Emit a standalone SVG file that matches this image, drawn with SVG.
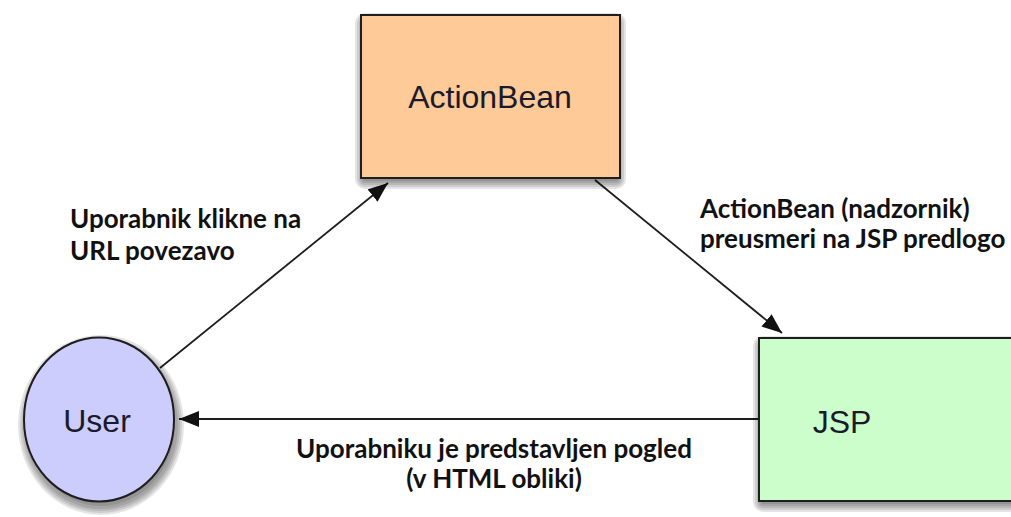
<svg xmlns="http://www.w3.org/2000/svg" width="1011" height="517" viewBox="0 0 1011 517">
  <defs>
    <marker id="arrow" markerUnits="userSpaceOnUse" markerWidth="22" markerHeight="16" refX="20" refY="8" orient="auto">
      <path d="M0,0 L20,8 L0,16 Z" fill="#111"/>
    </marker>
    <style>
      .node { stroke: #1e1e1e; stroke-width: 2; }
      .shade * { fill: #000; fill-opacity: 0.1; }
      .node-label { font-family: "Liberation Sans", Arial, sans-serif; font-size: 32px; fill: #1a1a2a; }
      .edge { stroke: #1e1e1e; stroke-width: 1.8; fill: none; marker-end: url(#arrow); }
      .edge-label { font-family: Lato, "Open Sans", sans-serif; font-weight: bold; font-size: 26px; fill: #111; }
    </style>
  </defs>

  <rect width="1011" height="517" fill="#ffffff"/>

  <!-- connectors -->
  <g id="connectors">
    <line class="edge" x1="160" y1="368" x2="388" y2="183"/>
    <line class="edge" x1="595" y1="180" x2="782" y2="333"/>
    <line class="edge" x1="759" y1="419" x2="179" y2="419"/>
  </g>

  <!-- nodes, each with a soft drop shadow built from stacked translucent layers -->
  <g id="node-actionbean">
    <g class="shade">
      <rect x="355" y="13" width="271" height="176" rx="10"/>
      <rect x="357" y="15" width="267" height="172" rx="8"/>
      <rect x="359" y="17" width="263" height="168" rx="6"/>
      <rect x="361" y="19" width="259" height="164" rx="4"/>
      <rect x="363" y="21" width="255" height="160" rx="2"/>
    </g>
    <rect class="node" x="361" y="15" width="259" height="163" fill="#fdca98"/>
    <text class="node-label" x="490" y="108" text-anchor="middle">ActionBean</text>
  </g>

  <g id="node-jsp">
    <g class="shade">
      <rect x="753" y="336" width="282" height="176" rx="10"/>
      <rect x="755" y="338" width="278" height="172" rx="8"/>
      <rect x="757" y="340" width="274" height="168" rx="6"/>
      <rect x="759" y="342" width="270" height="164" rx="4"/>
      <rect x="761" y="344" width="266" height="160" rx="2"/>
    </g>
    <rect class="node" x="759" y="338" width="270" height="163" fill="#ccfecb"/>
    <text class="node-label" x="842" y="433" text-anchor="middle">JSP</text>
  </g>

  <g id="node-user">
    <g class="shade">
      <ellipse cx="101" cy="425" rx="83" ry="90"/>
      <ellipse cx="101" cy="425" rx="81" ry="88"/>
      <ellipse cx="101" cy="425" rx="79" ry="86"/>
      <ellipse cx="101" cy="425" rx="77" ry="84"/>
      <ellipse cx="101" cy="425" rx="74" ry="81"/>
    </g>
    <ellipse class="node" cx="99" cy="419.5" rx="75" ry="82" fill="#cdcdfd"/>
    <text class="node-label" x="97" y="432" text-anchor="middle">User</text>
  </g>

  <!-- edge labels -->
  <g id="labels">
    <text class="edge-label" x="70" y="228">Uporabnik klikne na</text>
    <text class="edge-label" x="70" y="260">URL povezavo</text>
    <text class="edge-label" x="700" y="218">ActionBean (nadzornik)</text>
    <text class="edge-label" x="700" y="248">preusmeri na JSP predlogo</text>
    <text class="edge-label" x="494" y="458" text-anchor="middle">Uporabniku je predstavljen pogled</text>
    <text class="edge-label" x="494" y="488" text-anchor="middle">(v HTML obliki)</text>
  </g>
</svg>
